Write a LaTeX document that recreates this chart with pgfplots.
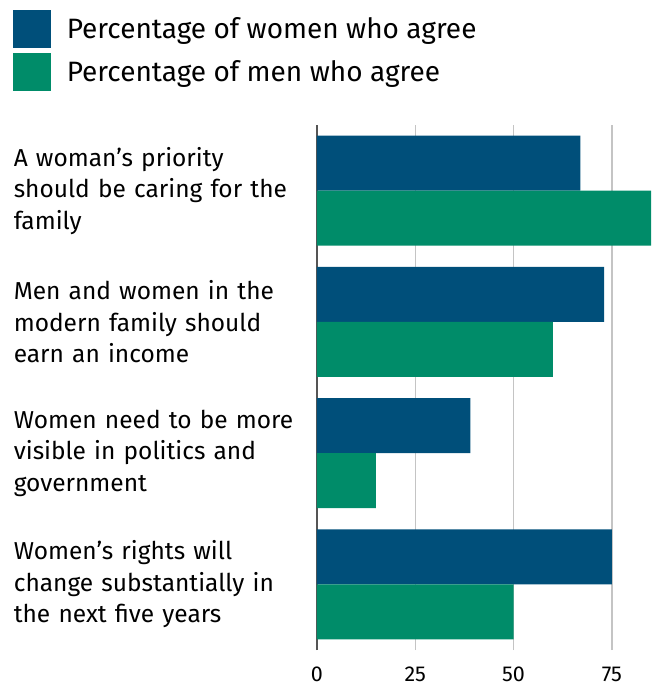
\documentclass[border=0pt]{standalone}
\usepackage{fontspec}
\setmainfont{Fira Sans}
\usepackage{pgfplots}
\pgfplotsset{compat=1.18}
\definecolor{womenblue}{HTML}{004F7A}
\definecolor{mengreen}{HTML}{008C69}
\definecolor{gridgray}{HTML}{C4C4C4}
\definecolor{axisgray}{HTML}{555555}

\begin{document}
\begin{tikzpicture}
\begin{axis}[
    name=ax,
    xbar,
    scale only axis,
    width=339.3pt, height=525pt,
    xmin=0, xmax=86.3,
    ymin=-0.5, ymax=3.5,
    bar width=55pt,
    axis line style={draw=none},
    xtick={0,25,50,75},
    xmajorgrids,
    grid style={gridgray, line width=1.5pt},
    extra x ticks={0},
    extra x tick labels={},
    extra x tick style={grid style={axisgray, line width=1.5pt}},
    major tick length=0pt,
    /pgf/number format/assume math mode=true,
    ytick={0,1,2,3},
    yticklabels={{Women’s rights will\\change substantially in\\the next five years},
                 {Women need to be more\\visible in politics and\\government},
                 {Men and women in the\\modern family should\\earn an income},
                 {A woman’s priority\\should be caring for the\\family}},
    yticklabel style={font=\fontsize{24.5}{31.5}\selectfont, text width=300pt, align=left, anchor=east, inner sep=0pt, xshift=-3pt},
    xticklabel style={font=\fontsize{21.5}{24}\selectfont, inner sep=0pt, anchor=north, yshift=-17pt},
    legend style={at={(axis description cs:-0.906,1.223)}, anchor=north west, draw=none, fill=none,
        font=\fontsize{28}{30}\selectfont, row sep=5pt,
        nodes={inner sep=0pt, anchor=west}},
    legend cell align=left,
    legend image code/.code={\fill (0pt,-19pt) rectangle (38pt,19pt);},
]
\addplot[draw=none, fill=womenblue, bar shift=27.5pt] coordinates {(75,0) (39,1) (73,2) (67,3)};
\addplot[draw=none, fill=mengreen, bar shift=-27.5pt] coordinates {(50,0) (15,1) (60,2) (85,3)};
\legend{\hspace{16pt}Percentage of women who agree, \hspace{16pt}Percentage of men who agree}
\end{axis}
\pgfresetboundingbox
\path (ax.south west) ++(-317pt,-37pt) rectangle ++(656pt,687pt);
\end{tikzpicture}
\end{document}
